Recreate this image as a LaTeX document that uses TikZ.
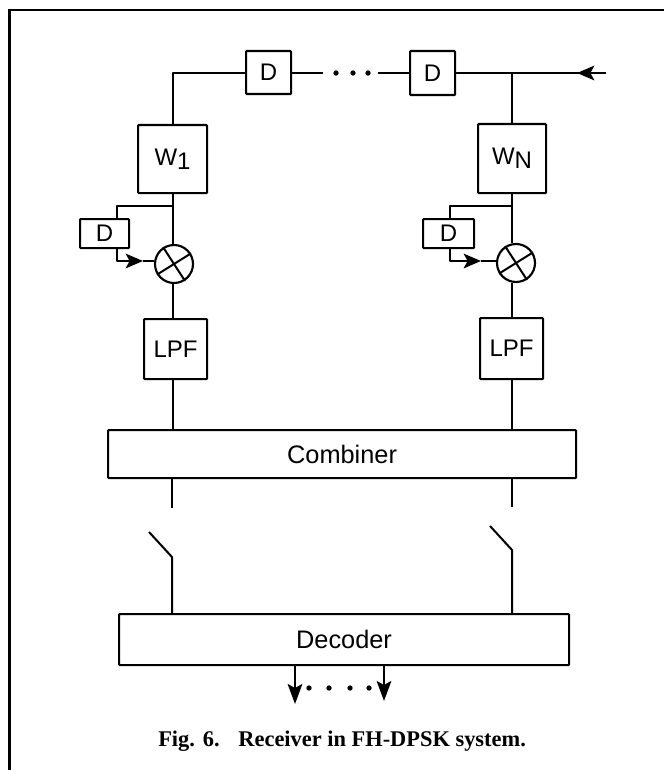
\documentclass[tikz,border=0pt]{standalone}
\usepackage{fontspec}
\setmainfont{Liberation Sans}
\newfontfamily\capfont{Liberation Serif}
\usetikzlibrary{arrows.meta}
\tikzset{
  x=0.75pt,y=-0.75pt,
  wire/.style={line width=1.5pt,black,line join=round},
  blk/.style={draw,line width=1.6pt,rounded corners=0.6pt,inner sep=0pt,fill=white,anchor=north west},
  lbl/.style={font=\fontsize{18}{20}\selectfont},
  lblb/.style={font=\fontsize{19}{21}\selectfont},
  mix/.style={draw,circle,line width=1.6pt,minimum size=28.5pt,inner sep=0pt},
  fwdtip/.style={-{Stealth[length=13pt,width=11pt,inset=3pt]}},
  outtip/.style={-{Stealth[length=15pt,width=11pt,inset=3pt]}},
  dotm/.style={circle,fill=black,inner sep=0pt,minimum size=4pt},
}
\newcommand{\blkat}[6]{\node[blk,minimum width=#4*0.75pt,minimum height=#5*0.75pt] (#1) at (#2,#3) {};\node[lbl] (#1t) at (#1) {#6};}
\begin{document}
\begin{tikzpicture}
\useasboundingbox (0,0) rectangle (664,770);
\draw[line width=2pt] (9.5,770) -- (9.5,10) -- (664,10);
% blocks
\blkat{d1}{245}{50}{45}{43}{D}
\blkat{d2}{409}{50}{45}{44}{D}
\blkat{wa}{137}{124}{69}{68}{W\lower3pt\hbox{1}}
\blkat{wb}{477}{123}{68}{69}{W\lower3pt\hbox{N}}
\blkat{da}{79}{218}{49}{29}{D}
\blkat{db}{422}{218}{51}{29}{D}
\blkat{la}{143}{318}{63}{60}{LPF}
\blkat{lb}{479}{317}{63}{61}{LPF}
\blkat{co}{107}{429}{468}{48}{}
\node[lblb] (cot) at (co) {Combiner};
\blkat{de}{118}{613}{450}{51}{}
\node[lblb] (det) at (de) {Decoder};
\node[mix] (ma) at (174,264) {};
\node[mix] (mb) at (516,263) {};
\foreach \m in {ma,mb}{
  \draw[wire] (\m.123) -- (\m.-57);
  \draw[wire] (\m.212) -- (\m.32);
}
% reference points of the wiring
\coordinate (tl) at (173,73);
\coordinate (tj) at (512,73);
\coordinate (tin) at (606,73);
\coordinate (al) at (173,206);
\coordinate (bl) at (512,206);
\coordinate (ac) at (117,206);
\coordinate (bc) at (450,206);
\coordinate (ad) at (117,261);
\coordinate (bd) at (450,261);
\coordinate (atip) at (143,261);
\coordinate (btip) at (481,261);
% delay line
\draw[wire] (tl |- wa.north) -- (tl) -- (d1.west |- tl);
\draw[wire] (d1.east |- tl) -- (323,73);
\node[dotm] (t1) at (336,73) {};
\node[dotm] (t2) at (353,73) {};
\node[dotm] (t3) at (368,73) {};
\draw[wire] (378,73) -- (d2.west |- tl);
\draw[wire] (d2.east |- tl) -- (tin);
\draw[wire,fwdtip] (tin) -- (577,73);
\draw[wire] (tj) -- (tj |- wb.north);
% left branch
\draw[wire] (al |- wa.south) -- (al |- ma.north);
\draw[wire] (al) -- (ac) -- (ac |- da.north);
\draw[wire,fwdtip] (ac |- da.south) -- (ad) -- (atip);
\draw[wire] (atip) -- (ma.west |- atip);
\draw[wire] (al |- ma.south) -- (al |- la.north);
\draw[wire] (al |- la.south) -- (al |- co.north);
% right branch
\draw[wire] (bl |- wb.south) -- (bl |- mb.north);
\draw[wire] (bl) -- (bc) -- (bc |- db.north);
\draw[wire,fwdtip] (bc |- db.south) -- (bd) -- (btip);
\draw[wire] (btip) -- (mb.west |- btip);
\draw[wire] (bl |- mb.south) -- (bl |- lb.north);
\draw[wire] (bl |- lb.south) -- (bl |- co.north);
% switches
\coordinate (sa) at (172,508);
\coordinate (sb) at (512,507);
\draw[wire] (sa |- co.south) -- (sa);
\draw[wire] (sb |- co.south) -- (sb);
\coordinate (pa) at (172,557);
\coordinate (pb) at (512,550);
\draw[wire] (149,532) -- (pa) -- (pa |- de.north);
\draw[wire] (490,526) -- (pb) -- (pb |- de.north);
% outputs
\coordinate (oa) at (295,704);
\coordinate (ob) at (384,701);
\draw[wire,outtip] (oa |- de.south) -- (oa);
\draw[wire,outtip] (ob |- de.south) -- (ob);
\node[dotm] (o1) at (309,688) {};
\node[dotm] (o2) at (329,688) {};
\node[dotm] (o3) at (350,688) {};
\node[dotm] (o4) at (369,688) {};
\node[anchor=base west,inner sep=0pt,font=\capfont\bfseries\fontsize{16.8}{19}\selectfont] (cap) at (158,746) {Fig.\hspace{6pt}6.\hspace{14pt}Receiver in FH-DPSK system.};
\end{tikzpicture}
\end{document}
